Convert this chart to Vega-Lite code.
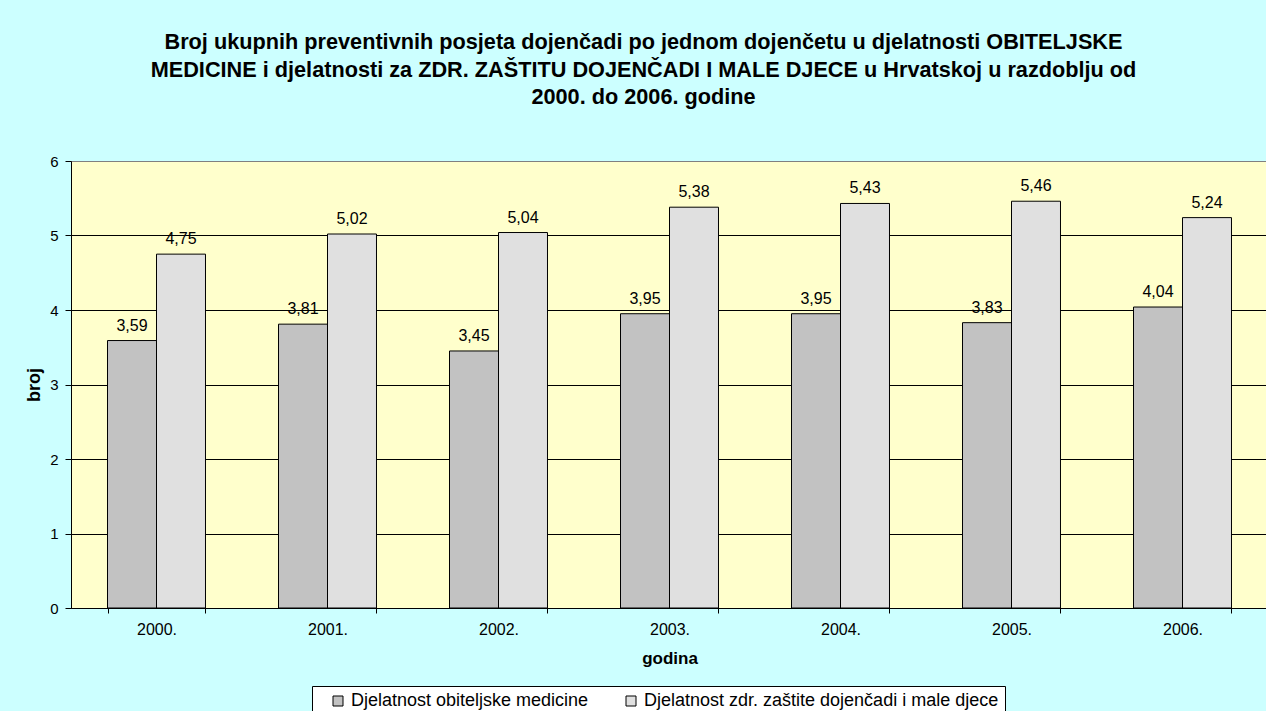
{
  "$schema": "https://vega.github.io/schema/vega-lite/v6.json",
  "autosize": "none",
  "width": 1197,
  "height": 447,
  "padding": {"left": 71, "top": 161, "right": 0, "bottom": 103},
  "background": "#CCFFFF",
  "config": {
    "font": "Liberation Sans",
    "locale": {"number": {"decimal": ",", "thousands": ".", "grouping": [3], "currency": ["", ""]}},
    "view": {"fill": "#FFFFCC", "stroke": "#808080", "strokeWidth": 1}
  },
  "title": {
    "text": [
      "Broj ukupnih preventivnih posjeta dojenčadi po jednom dojenčetu u djelatnosti OBITELJSKE",
      "MEDICINE i djelatnosti za ZDR. ZAŠTITU DOJENČADI I MALE DJECE u Hrvatskoj u razdoblju od",
      "2000. do 2006. godine"
    ],
    "fontSize": 21.7,
    "fontWeight": "bold",
    "color": "black",
    "anchor": "middle",
    "frame": "group",
    "dx": -26,
    "lineHeight": 27.5,
    "offset": 45
  },
  "data": {
    "values": [
      {"godina": "2000.", "djelatnost": "Djelatnost obiteljske medicine", "broj": 3.59},
      {"godina": "2000.", "djelatnost": "Djelatnost zdr. zaštite dojenčadi i male djece", "broj": 4.75},
      {"godina": "2001.", "djelatnost": "Djelatnost obiteljske medicine", "broj": 3.81},
      {"godina": "2001.", "djelatnost": "Djelatnost zdr. zaštite dojenčadi i male djece", "broj": 5.02},
      {"godina": "2002.", "djelatnost": "Djelatnost obiteljske medicine", "broj": 3.45},
      {"godina": "2002.", "djelatnost": "Djelatnost zdr. zaštite dojenčadi i male djece", "broj": 5.04},
      {"godina": "2003.", "djelatnost": "Djelatnost obiteljske medicine", "broj": 3.95},
      {"godina": "2003.", "djelatnost": "Djelatnost zdr. zaštite dojenčadi i male djece", "broj": 5.38},
      {"godina": "2004.", "djelatnost": "Djelatnost obiteljske medicine", "broj": 3.95},
      {"godina": "2004.", "djelatnost": "Djelatnost zdr. zaštite dojenčadi i male djece", "broj": 5.43},
      {"godina": "2005.", "djelatnost": "Djelatnost obiteljske medicine", "broj": 3.83},
      {"godina": "2005.", "djelatnost": "Djelatnost zdr. zaštite dojenčadi i male djece", "broj": 5.46},
      {"godina": "2006.", "djelatnost": "Djelatnost obiteljske medicine", "broj": 4.04},
      {"godina": "2006.", "djelatnost": "Djelatnost zdr. zaštite dojenčadi i male djece", "broj": 5.24}
    ]
  },
  "encoding": {
    "x": {
      "field": "godina",
      "type": "nominal",
      "title": "godina",
      "scale": {"paddingInner": 0.427, "paddingOuter": 0.2135},
      "axis": {
        "labelAngle": 0,
        "labelFontSize": 16,
        "labelColor": "black",
        "labelPadding": 8,
        "tickBand": "extent",
        "tickSize": 5,
        "tickColor": "black",
        "domainColor": "black",
        "grid": false,
        "titleFontSize": 17,
        "titleFontWeight": "bold",
        "titleColor": "black",
        "titleY": 55,
        "titleBaseline": "alphabetic"
      }
    },
    "xOffset": {
      "field": "djelatnost",
      "sort": ["Djelatnost obiteljske medicine", "Djelatnost zdr. zaštite dojenčadi i male djece"],
      "scale": {"paddingInner": 0, "paddingOuter": 0}
    },
    "y": {
      "field": "broj",
      "type": "quantitative",
      "title": "broj",
      "scale": {"domain": [0, 6], "nice": false},
      "axis": {
        "values": [0, 1, 2, 3, 4, 5, 6],
        "format": "d",
        "labelFontSize": 15,
        "labelColor": "black",
        "labelPadding": 7,
        "tickSize": 6,
        "tickColor": "black",
        "domainColor": "black",
        "grid": true,
        "gridColor": {"condition": {"test": "datum.value === 6", "value": "#808080"}, "value": "black"},
        "gridOpacity": 1,
        "titleFontSize": 18,
        "titleFontWeight": "bold",
        "titleColor": "black",
        "titleX": -37,
        "titleY": 223.5,
        "titleBaseline": "middle"
      }
    }
  },
  "layer": [
    {
      "mark": {"type": "bar", "stroke": "black", "strokeWidth": 1},
      "encoding": {
        "color": {
          "field": "djelatnost",
          "type": "nominal",
          "scale": {
            "domain": ["Djelatnost obiteljske medicine", "Djelatnost zdr. zaštite dojenčadi i male djece"],
            "range": ["#C2C2C2", "#E0E0E0"]
          },
          "legend": {
            "title": null,
            "orient": "none",
            "legendX": 241,
            "legendY": 525,
            "direction": "horizontal",
            "fillColor": "white",
            "strokeColor": "black",
            "padding": 6,
            "symbolType": "square",
            "symbolSize": 100,
            "symbolStrokeColor": "black",
            "symbolStrokeWidth": 1,
            "symbolOpacity": 1,
            "labelFontSize": 18,
            "labelColor": "black",
            "labelOffset": 4,
            "labelLimit": 1000,
            "symbolOffset": 11,
            "columnPadding": 22
          }
        }
      }
    },
    {
      "mark": {"type": "text", "baseline": "alphabetic", "dy": -10, "fontSize": 16, "color": "black"},
      "encoding": {
        "text": {"field": "broj", "type": "quantitative", "format": ".2f"}
      }
    }
  ]
}
